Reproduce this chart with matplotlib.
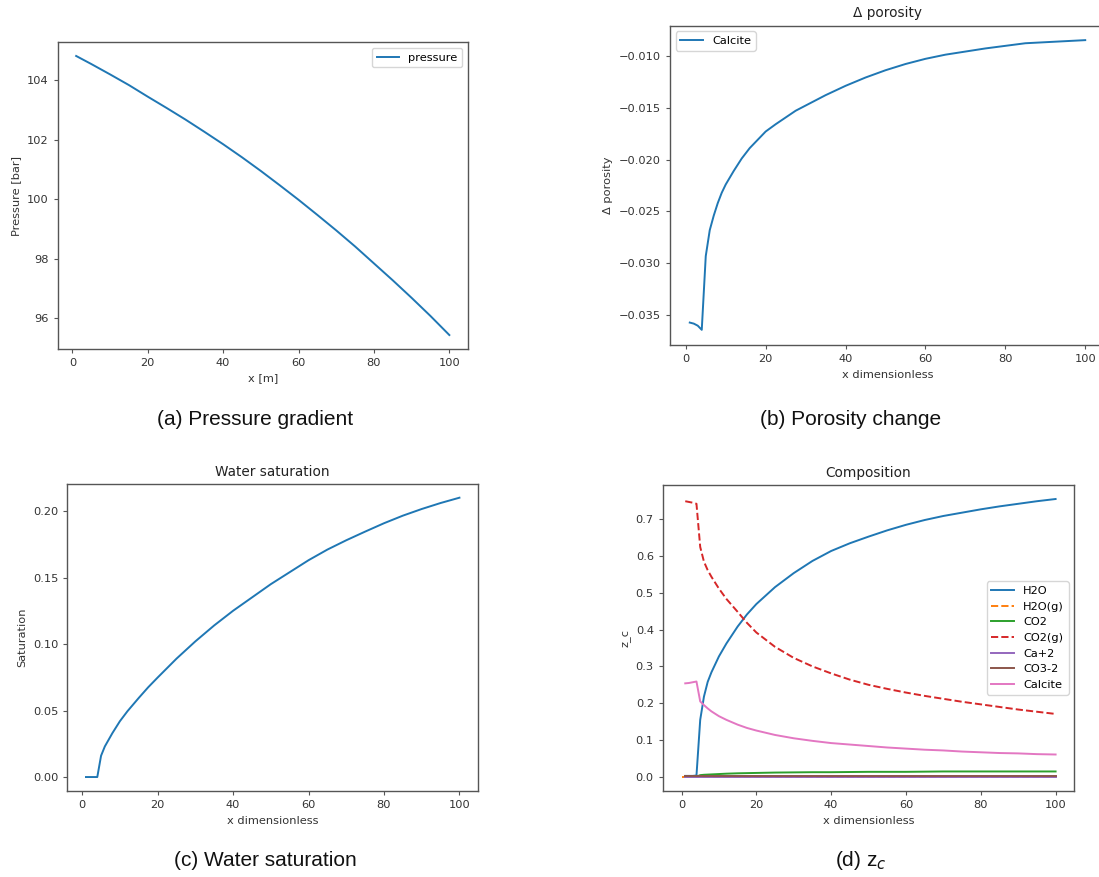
import matplotlib
matplotlib.use("Agg")
import matplotlib.pyplot as plt

# ---------------- data ----------------
x_pressure = [1, 5, 10, 15, 20, 25, 30, 35, 40, 45, 50, 55, 60, 65, 70, 75, 80, 85, 90, 95, 100]
pressure = [104.82, 104.55, 104.2, 103.84, 103.45, 103.07, 102.68, 102.27, 101.85, 101.41,
            100.95, 100.47, 99.98, 99.47, 98.95, 98.41, 97.84, 97.27, 96.68, 96.07, 95.43]

x_poro = [1, 2, 3, 4, 5, 6, 7, 8, 9, 10, 12, 14, 16, 18, 20, 22.5, 25, 27.5, 30, 35, 40,
          45, 50, 55, 60, 65, 70, 75, 80, 85, 90, 95, 100]
d_porosity = [-0.0357, -0.0358, -0.0360, -0.0364, -0.0293, -0.0268, -0.0254, -0.0242,
              -0.0232, -0.0224, -0.0211, -0.0199, -0.0189, -0.0181, -0.0173, -0.0166,
              -0.01595, -0.0153, -0.0148, -0.0138, -0.0129, -0.0121, -0.0114, -0.0108,
              -0.0103, -0.0099, -0.0096, -0.0093, -0.00905, -0.0088, -0.0087, -0.0086,
              -0.0085]

x_sat = [1, 2, 3, 4, 5, 6, 7, 8, 10, 12, 15, 17.5, 20, 25, 30, 35, 40, 45, 50, 55, 60,
         65, 70, 75, 80, 85, 90, 95, 100]
saturation = [0, 0, 0, 0, 0.016, 0.023, 0.028, 0.033, 0.042, 0.0495, 0.0595, 0.0675,
              0.0748, 0.089, 0.102, 0.114, 0.125, 0.135, 0.145, 0.154, 0.163, 0.171,
              0.178, 0.1845, 0.1908, 0.1965, 0.2015, 0.206, 0.210]

x_comp = [1, 2, 3, 4, 5, 6, 7, 8, 10, 12, 15, 17.5, 20, 25, 30, 35, 40, 45, 50, 55, 60,
          65, 70, 75, 80, 85, 90, 95, 100]
z_h2o = [0.003, 0.003, 0.003, 0.004, 0.155, 0.218, 0.258, 0.284, 0.327, 0.362, 0.408,
         0.441, 0.469, 0.515, 0.553, 0.586, 0.613, 0.634, 0.652, 0.669, 0.684, 0.697,
         0.708, 0.717, 0.726, 0.734, 0.741, 0.748, 0.754]
x_h2og = [0, 1, 2, 3, 4, 5, 10, 20, 40, 60, 80, 100]
z_h2og = [0.001, 0.001, 0.001, 0.001, 0.001, 0.001, 0.001, 0.001, 0.001, 0.001, 0.001, 0.001]
z_co2 = [0.0, 0.0, 0.0, 0.001, 0.005, 0.006, 0.0065, 0.007, 0.008, 0.009, 0.010, 0.0105,
         0.011, 0.012, 0.0125, 0.013, 0.013, 0.0135, 0.014, 0.014, 0.014, 0.0145, 0.015,
         0.015, 0.015, 0.015, 0.015, 0.015, 0.015]
z_co2g = [0.748, 0.746, 0.744, 0.741, 0.624, 0.584, 0.561, 0.543, 0.511, 0.483, 0.448,
          0.418, 0.392, 0.353, 0.323, 0.300, 0.281, 0.264, 0.250, 0.239, 0.229, 0.220,
          0.212, 0.204, 0.197, 0.190, 0.183, 0.177, 0.171]
z_ca = [0.0005] * 29
z_co3 = [0.002] * 29
z_calcite = [0.254, 0.255, 0.257, 0.259, 0.205, 0.195, 0.186, 0.178, 0.165, 0.155, 0.142,
             0.133, 0.126, 0.114, 0.105, 0.098, 0.092, 0.088, 0.084, 0.080, 0.077, 0.074,
             0.072, 0.069, 0.067, 0.065, 0.064, 0.062, 0.061]

comp_labels = ["H2O", "H2O(g)", "CO2", "CO2(g)", "Ca+2", "CO3-2", "Calcite"]

captions = ["(a) Pressure gradient", "(b) Porosity change",
            "(c) Water saturation", "(d) z$_c$"]

# ---------------- style ----------------
FS = 8.2
plt.rcParams.update({
    "font.family": ["DejaVu Sans"],
    "font.size": FS,
    "axes.titlesize": 9.8,
    "axes.labelsize": FS,
    "xtick.labelsize": FS,
    "ytick.labelsize": FS,
    "legend.fontsize": FS,
    "axes.linewidth": 1.0,
    "axes.edgecolor": "#555555",
    "xtick.color": "#555555",
    "ytick.color": "#555555",
    "xtick.labelcolor": "#333333",
    "ytick.labelcolor": "#333333",
    "axes.labelcolor": "#333333",
    "axes.titlecolor": "#222222",
    "xtick.major.size": 3,
    "ytick.major.size": 3,
    "lines.linewidth": 1.4,
})

W, H = 1099, 877
fig = plt.figure(figsize=(W / 100, H / 100), dpi=100)


def add_ax(l, t, r, b):
    return fig.add_axes([l / W, 1 - b / H, (r - l) / W, (b - t) / H])


ax_a = add_ax(57.5, 42.3, 468, 349)
ax_b = add_ax(670, 25.7, 1105, 345)
ax_c = add_ax(67.3, 484, 478.1, 791)
ax_d = add_ax(662.8, 485, 1074.3, 791)

# (a)
ax_a.plot(x_pressure, pressure, color="C0", label="pressure")
ax_a.set_xlim(-3.95, 104.95)
ax_a.set_ylim(94.96, 105.28)
ax_a.set_yticks([96, 98, 100, 102, 104])
ax_a.set_xlabel("x [m]")
ax_a.set_ylabel("Pressure [bar]")
ax_a.legend(loc="upper right")

# (b)
ax_b.plot(x_poro, d_porosity, color="C0", label="Calcite")
ax_b.set_xlim(-3.95, 104.95)
ax_b.set_ylim(-0.03786, -0.00711)
ax_b.set_yticks([-0.035, -0.030, -0.025, -0.020, -0.015, -0.010])
ax_b.set_xticks([0, 20, 40, 60, 80, 100])
ax_b.set_title("Δ porosity")
ax_b.set_xlabel("x dimensionless")
ax_b.set_ylabel("Δ porosity")
ax_b.legend(loc="upper left")

# (c)
ax_c.plot(x_sat, saturation, color="C0")
ax_c.set_xlim(-3.95, 104.95)
ax_c.set_ylim(-0.0105, 0.2203)
ax_c.set_title("Water saturation")
ax_c.set_xlabel("x dimensionless")
ax_c.set_ylabel("Saturation")

# (d)
ax_d.plot(x_comp, z_h2o, color="C0", label=comp_labels[0])
ax_d.plot(x_h2og, z_h2og, color="C1", ls="--", label=comp_labels[1])
ax_d.plot(x_comp, z_co2, color="C2", label=comp_labels[2])
ax_d.plot(x_comp, z_co2g, color="C3", ls="--", label=comp_labels[3])
ax_d.plot(x_comp, z_ca, color="C4", label=comp_labels[4])
ax_d.plot(x_comp, z_co3, color="C5", label=comp_labels[5])
ax_d.plot(x_comp, z_calcite, color="C6", label=comp_labels[6])
ax_d.set_xlim(-5, 105)
ax_d.set_ylim(-0.038, 0.792)
ax_d.set_title("Composition")
ax_d.set_xlabel("x dimensionless")
ax_d.set_ylabel("z_c")
ax_d.legend(loc="center right")

# captions
cap_pos = [(255, 420), (851, 420), (265.5, 861), (861, 861)]
for txt, (cx, cy) in zip(captions, cap_pos):
    fig.text(cx / W, 1 - cy / H, txt, ha="center", va="center",
             fontsize=15, family="Liberation Sans", color="#111111")

fig.savefig("out.png", dpi=100)
